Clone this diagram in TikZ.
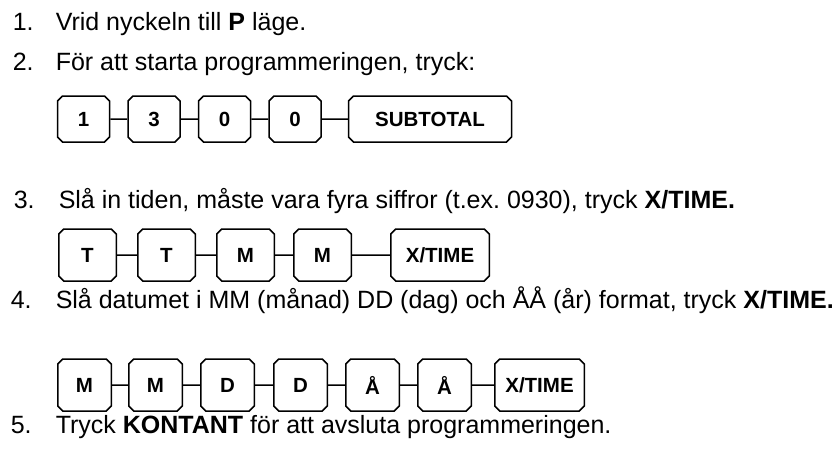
\documentclass[tikz,border=0pt]{standalone}
\usepackage{fontspec}
\setmainfont{Liberation Sans}
\usetikzlibrary{positioning}
\usetikzlibrary{shapes.misc}

\begin{document}
\begin{tikzpicture}[
        x = 1pt, y = -1pt, % pixel units, y down
        node distance = 17pt, % gap between keys
        line width = 1.5pt % line style
    ]

    \tikzstyle{key}=[
        chamfered rectangle,
        chamfered rectangle xsep = 2.5pt,
        chamfered rectangle ysep = 2.5pt,
        draw = black,
        line width = 1.5pt,
        inner sep = 0pt,
        font = \fontsize{20.5}{20.5}\selectfont\bfseries
    ]
    \tikzstyle{txt}=[
        anchor = base west,
        inner sep = 0pt,
        font = \fontsize{25}{29}\selectfont
    ]

    \useasboundingbox (0,0) rectangle (837,458);

    % steps text
    \node[txt] (N1) at (12,30) {1.};
    \node[txt] (T1) at (55,30) {Vrid nyckeln till \textbf{P} läge.};
    \node[txt] (N2) at (12,70) {2.};
    \node[txt] (T2) at (55,70) {För att starta programmeringen, tryck:};
    \node[txt] (N3) at (13,208) {3.};
    \node[txt] (T3) at (58,208) {Slå in tiden, måste vara fyra siffror (t.ex.\ 0930), tryck \textbf{X/TIME.}};
    \node[txt] (N4) at (10,308) {4.};
    \node[txt] (T4) at (55,308) {Slå datumet i MM (månad) DD (dag) och ÅÅ (år) format, tryck \textbf{X/TIME.}};
    \node[txt] (N5) at (10,433) {5.};
    \node[txt] (T5) at (55,433) {Tryck \textbf{KONTANT} för att avsluta programmeringen.};

    % row 1
    \begin{scope}[every node/.append style={minimum width=52pt, minimum height=46pt}]
        \node[key] (A1) at (83.5,119) {1};
        \node[key] (A2) [right=17pt of A1] {3};
        \node[key] (A3) [right=17pt of A2] {0};
        \node[key] (A4) [right=17pt of A3] {0};
        \node[key, minimum width=163pt] (A5) [right=26pt of A4] {SUBTOTAL};
    \end{scope}
    \draw (A1) -- (A2);
    \draw (A2) -- (A3);
    \draw (A3) -- (A4);
    \draw (A4) -- (A5);

    % row 2
    \begin{scope}[every node/.append style={minimum width=57.5pt, minimum height=52pt}]
        \node[key] (B1) at (87.5,255) {T};
        \node[key] (B2) [right=20pt of B1] {T};
        \node[key] (B3) [right=20pt of B2] {M};
        \node[key] (B4) [right=18pt of B3] {M};
        \node[key, minimum width=98.5pt] (B5) [right=38pt of B4] {X/TIME};
    \end{scope}
    \draw (B1) -- (B2);
    \draw (B2) -- (B3);
    \draw (B3) -- (B4);
    \draw (B4) -- (B5);

    % row 3
    \begin{scope}[every node/.append style={minimum width=53.5pt, minimum height=52pt}]
        \node[key] (C1) at (84.5,385) {M};
        \node[key] (C2) [right=16pt of C1] {M};
        \node[key] (C3) [right=17pt of C2] {D};
        \node[key] (C4) [right=18pt of C3] {D};
        \node[key] (C5) [right=17pt of C4] {Å};
        \node[key] (C6) [right=17pt of C5] {Å};
        \node[key, minimum width=89.5pt] (C7) [right=22pt of C6] {X/TIME};
    \end{scope}
    \draw (C1) -- (C2);
    \draw (C2) -- (C3);
    \draw (C3) -- (C4);
    \draw (C4) -- (C5);
    \draw (C5) -- (C6);
    \draw (C6) -- (C7);

\end{tikzpicture}
\end{document}
